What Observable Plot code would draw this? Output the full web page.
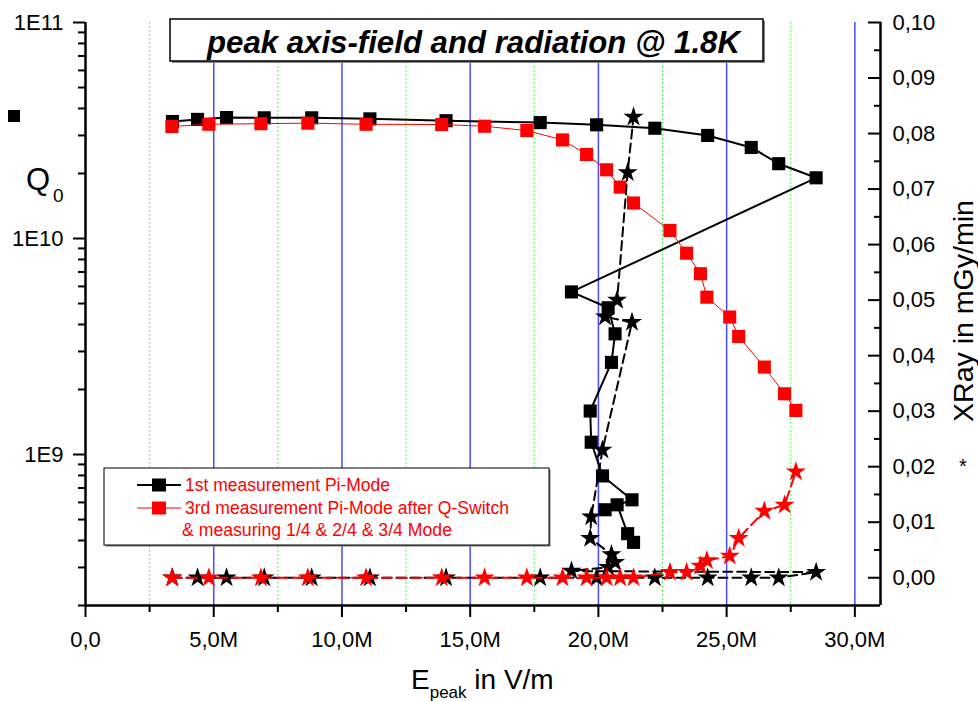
<!DOCTYPE html>
<html>
<head>
<meta charset="utf-8">
<script src="https://cdn.jsdelivr.net/npm/d3@7"></script>
<script src="https://cdn.jsdelivr.net/npm/@observablehq/plot@0.6"></script>
<style>
  body { margin: 0; background: #fff; }
  #wrap { position: relative; width: 978px; height: 701px; overflow: hidden; font-family: "Liberation Sans", Arial, sans-serif; }
  #wrap > svg { position: absolute; left: 0; top: 0; }
</style>
</head>
<body>
<div id="wrap"></div>
<script>
// ---------- axis ticks / labels ----------
const xTicks = [0, 5, 10, 15, 20, 25, 30];
const xTickLabels = ["0,0", "5,0M", "10,0M", "15,0M", "20,0M", "25,0M", "30,0M"];
const xMinorTicks = [2.5, 7.5, 12.5, 17.5, 22.5, 27.5];
const qTicks = [1e9, 1e10, 1e11];
const qTickLabels = ["1E9", "1E10", "1E11"];
const qMinorTicks = [2e8, 3e8, 4e8, 5e8, 6e8, 7e8, 8e8, 9e8,
                     2e9, 3e9, 4e9, 5e9, 6e9, 7e9, 8e9, 9e9,
                     2e10, 3e10, 4e10, 5e10, 6e10, 7e10, 8e10, 9e10];
const xrayTicks = [0, 0.01, 0.02, 0.03, 0.04, 0.05, 0.06, 0.07, 0.08, 0.09, 0.10];
const xrayTickLabels = ["0,00", "0,01", "0,02", "0,03", "0,04", "0,05", "0,06", "0,07", "0,08", "0,09", "0,10"];
const xrayMinorTicks = [0.005, 0.015, 0.025, 0.035, 0.045, 0.055, 0.065, 0.075, 0.085, 0.095];

// ---------- 1st measurement Pi-Mode (E in MV/m) ----------
const firstE = [3.39, 4.37, 5.50, 6.97, 8.82, 11.09, 14.06, 17.73, 19.93, 22.20, 24.26, 25.96, 27.03, 28.49,
                18.95, 20.38, 20.65, 20.51, 19.68, 19.72, 20.16, 21.31, 20.26, 20.73, 21.14, 21.37];
const firstQ = [3.48e10, 3.56e10, 3.63e10, 3.62e10, 3.62e10, 3.58e10, 3.51e10, 3.44e10, 3.36e10, 3.24e10, 3.0e10, 2.64e10, 2.22e10, 1.91e10,
                5.66e9, 4.78e9, 3.62e9, 2.67e9, 1.59e9, 1.14e9, 7.96e8, 6.17e8, 5.55e8, 5.85e8, 4.30e8, 3.92e8];
const firstXRay = [0, 0, 0, 0, 0, 0, 0, 0, 0, 0, 0, 0, 0, 0.001,
                   0.0012, 0.0019, 0.0028, 0.0042, 0.0071, 0.011, 0.023, 0.046, 0.047, 0.050, 0.073, 0.083];

// ---------- 3rd measurement Pi-Mode after Q-Switch ----------
const thirdE = [3.37, 4.81, 6.84, 8.67, 10.94, 13.89, 15.56, 17.21, 18.60, 19.54, 20.32, 20.85, 21.37,
                22.79, 23.44, 23.98, 24.23, 25.12, 25.47, 26.47, 27.26, 27.70];
const thirdQ = [3.30e10, 3.38e10, 3.40e10, 3.42e10, 3.38e10, 3.37e10, 3.31e10, 3.16e10, 2.86e10, 2.45e10, 2.08e10, 1.73e10, 1.46e10,
                1.09e10, 8.55e9, 6.87e9, 5.35e9, 4.33e9, 3.52e9, 2.54e9, 1.91e9, 1.60e9];
const thirdXRay = [0, 0, 0, 0, 0, 0, 0, 0, 0, 0, 0, 0, 0,
                   0.001, 0.001, 0.0021, 0.0031, 0.0039, 0.0071, 0.012, 0.0131, 0.0191];

const first = firstE.map((e, i) => ({E: e, Q: firstQ[i], X: firstXRay[i]}));
const third = thirdE.map((e, i) => ({E: e, Q: thirdQ[i], X: thirdXRay[i]}));

const lookup = (ticks, labels) => d => { const i = ticks.findIndex(t => Math.abs(t - d) < 1e-12 * Math.max(1, Math.abs(t))); return i >= 0 ? labels[i] : ""; };

const common = {
  width: 978, height: 701,
  marginLeft: 85, marginRight: 98, marginTop: 22, marginBottom: 96,
};
const font = "Liberation Sans, Arial, sans-serif";

const p1 = Plot.plot({
  ...common,
  style: {background: "white", fontFamily: font, fontSize: "22px", color: "black", overflow: "visible"},
  x: {domain: [0, 31], label: null},
  y: {type: "log", domain: [2e8, 1e11], label: null},
  marks: [
    Plot.ruleX(xMinorTicks, {stroke: "#33dd33", strokeWidth: 1, strokeDasharray: "1.5,2.5"}),
    Plot.ruleX(xTicks.filter(d => d > 0), {stroke: "#4a4aff", strokeWidth: 1.5}),
    Plot.axisX({ticks: xTicks, tickFormat: lookup(xTicks, xTickLabels), tickSize: 12, tickPadding: 14, strokeWidth: 2, fontSize: 22, label: null}),
    Plot.axisX({ticks: xMinorTicks, tickSize: 7, strokeWidth: 2, fill: "none", label: null}),
    Plot.axisY({ticks: qTicks, tickFormat: lookup(qTicks, qTickLabels), tickSize: 12, tickPadding: 10, strokeWidth: 2, fontSize: 22, label: null}),
    Plot.axisY({ticks: qMinorTicks, tickSize: 7, strokeWidth: 2, fill: "none", label: null}),
    Plot.ruleX([0], {stroke: "black", strokeWidth: 2.5}),
    Plot.ruleX([31], {stroke: "black", strokeWidth: 2.5}),
    Plot.ruleY([2e8], {stroke: "black", strokeWidth: 2.5}),
    Plot.line(first, {x: "E", y: "Q", stroke: "black", strokeWidth: 2}),
    Plot.dot(first, {x: "E", y: "Q", symbol: "square", fill: "black", r: 7.4}),
    Plot.line(third, {x: "E", y: "Q", stroke: "red", strokeWidth: 1}),
    Plot.dot(third, {x: "E", y: "Q", symbol: "square", fill: "red", r: 7.4})
  ]
});

const p2 = Plot.plot({
  ...common,
  style: {background: "transparent", fontFamily: font, fontSize: "22px", color: "black", overflow: "visible"},
  x: {domain: [0, 31], axis: null, label: null},
  y: {domain: [-0.005, 0.10], label: null},
  marks: [
    Plot.axisY({anchor: "right", ticks: xrayTicks, tickSize: 13, dx: -13, strokeWidth: 2, fill: "none", label: null}),
    Plot.axisY({anchor: "right", ticks: xrayMinorTicks, tickSize: 7, dx: -7, strokeWidth: 2, fill: "none", label: null}),
    Plot.axisY({anchor: "right", ticks: xrayTicks, tickSize: 0, tickPadding: 12, tickFormat: lookup(xrayTicks, xrayTickLabels), fontSize: 22, label: null}),
    Plot.line(first, {x: "E", y: "X", stroke: "black", strokeWidth: 2, strokeDasharray: "9,5"}),
    Plot.dot(first, {x: "E", y: "X", symbol: "star", fill: "black", r: 6.3}),
    Plot.line(third, {x: "E", y: "X", stroke: "red", strokeWidth: 2, strokeDasharray: "10,5"}),
    Plot.dot(third, {x: "E", y: "X", symbol: "star", fill: "red", r: 6.3})
  ]
});

const wrap = document.getElementById("wrap");
wrap.appendChild(p1);
wrap.appendChild(p2);

// ---------- overlay: title, legend, axis titles ----------
const NS = "http://www.w3.org/2000/svg";
const ov = document.createElementNS(NS, "svg");
ov.setAttribute("width", 978);
ov.setAttribute("height", 701);
ov.style.pointerEvents = "none";
ov.innerHTML = `
  <g font-family="${font}">
    <rect x="172" y="21" width="593" height="42" fill="#888"/>
    <rect x="170" y="19" width="593" height="42" fill="white" stroke="black" stroke-width="1.5"/>
    <text x="207" y="52.5" font-size="31" font-weight="bold" font-style="italic" textLength="533" lengthAdjust="spacingAndGlyphs">peak axis-field and radiation @ 1.8K</text>

    <rect x="105.5" y="469.5" width="445" height="77" fill="#777"/>
    <rect x="104" y="468" width="445" height="77" fill="white" stroke="black" stroke-width="1"/>
    <line x1="137" x2="181" y1="485" y2="485" stroke="black" stroke-width="2"/>
    <rect x="152" y="478.5" width="14" height="13" fill="black"/>
    <text x="185" y="491" font-size="17.5" fill="red" textLength="205" lengthAdjust="spacingAndGlyphs">1st measurement Pi-Mode</text>
    <line x1="137" x2="181" y1="508" y2="508" stroke="red" stroke-width="1"/>
    <rect x="152" y="501.5" width="14" height="13" fill="red"/>
    <text x="185" y="514" font-size="17.5" fill="red" textLength="324" lengthAdjust="spacingAndGlyphs">3rd measurement Pi-Mode after Q-Switch</text>
    <text x="182" y="536" font-size="17.5" fill="red" textLength="270" lengthAdjust="spacingAndGlyphs">&amp; measuring 1/4 &amp; 2/4 &amp; 3/4 Mode</text>

    <rect x="8" y="110" width="12" height="12" fill="black"/>
    <text x="26" y="190" font-size="31">Q</text>
    <text x="53" y="202" font-size="19">0</text>

    <text x="411" y="689" font-size="28">E<tspan font-size="17" dy="9">peak</tspan><tspan dy="-9"> in V/m</tspan></text>

    <text transform="translate(973,311) rotate(-90)" text-anchor="middle" font-size="28.5" textLength="222" lengthAdjust="spacingAndGlyphs">XRay in mGy/min</text>
    <text x="963" y="473" text-anchor="middle" font-size="20">*</text>
  </g>`;
wrap.appendChild(ov);
</script>
</body>
</html>
